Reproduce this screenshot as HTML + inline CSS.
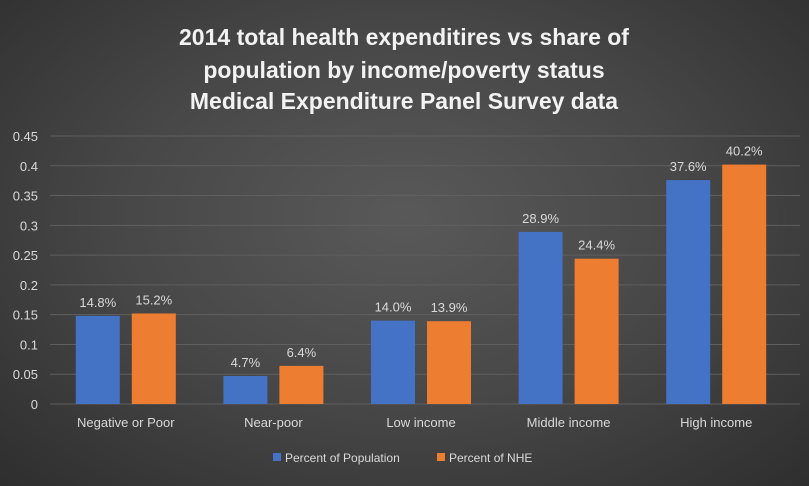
<!DOCTYPE html>
<html><head><meta charset="utf-8"><style>
html,body{margin:0;padding:0}
body{width:809px;height:486px;overflow:hidden;background:radial-gradient(ellipse at 50% 45%,#595959 0%,#474747 50%,#2e2e2e 100%);font-family:"Liberation Sans",sans-serif}
svg{display:block}
svg text{font-family:"Liberation Sans",sans-serif}
</style></head><body>
<svg id="chart" width="809" height="486">
<g fill="#f2f2f2" font-size="23" font-weight="bold" text-anchor="middle">
<text x="404" y="45">2014 total health expenditires vs share of</text>
<text x="404" y="78">population by income/poverty status</text>
<text x="404" y="109">Medical Expenditure Panel Survey data</text>
</g>
<g id="grid"></g><g id="bars"></g><g id="labels"></g>
<g font-size="12" fill="#d9d9d9">
<rect x="273" y="453" width="8" height="8" fill="#4472c4"/>
<text x="285" y="462">Percent of Population</text>
<rect x="437" y="453" width="8" height="8" fill="#ed7d31"/>
<text x="449" y="462">Percent of NHE</text>
</g>
</svg>
<script>
const categories=["Negative or Poor","Near-poor","Low income","Middle income","High income"];
const population=[0.148,0.047,0.140,0.289,0.376];
const nhe=[0.152,0.064,0.139,0.244,0.402];
const popLabels=["14.8%","4.7%","14.0%","28.9%","37.6%"];
const nheLabels=["15.2%","6.4%","13.9%","24.4%","40.2%"];
const ticks=[0,0.05,0.1,0.15,0.2,0.25,0.3,0.35,0.4,0.45];
const tickLabels=["0","0.05","0.1","0.15","0.2","0.25","0.3","0.35","0.4","0.45"];
const NS="http://www.w3.org/2000/svg";
const x0=52,x1=790,yBase=404,yTop=136,vmax=0.45;
const y=v=>yBase-(v/vmax)*(yBase-yTop);
const bw=(x1-x0)/categories.length;
const xc=i=>x0+bw*(i+0.5);
function mk(tag,attrs,parent,txt){const e=document.createElementNS(NS,tag);for(const k in attrs)e.setAttribute(k,attrs[k]);if(txt!==undefined)e.textContent=txt;document.getElementById(parent).appendChild(e);return e;}
ticks.forEach((t,i)=>{
 const l=mk('line',{x1:50,x2:800,y1:y(t),y2:y(t),stroke:'#5f5f5f','stroke-width':1},'grid');
 
 
 const tx=mk('text',{x:38,y:y(t)+5,'text-anchor':'end','font-size':13,fill:'#d9d9d9'},'grid',tickLabels[i]);
 
 
});
const W=44,G=12;
categories.forEach((c,i)=>{
 const bx=xc(i)-G/2-W, ox=xc(i)+G/2;
 const b=mk('rect',{x:bx,y:y(population[i]),width:W,height:yBase-y(population[i]),fill:'#4472c4'},'bars');
 
 
 const o=mk('rect',{x:ox,y:y(nhe[i]),width:W,height:yBase-y(nhe[i]),fill:'#ed7d31'},'bars');
 
 
 const l1=mk('text',{x:bx+W/2,y:y(population[i])-9,'text-anchor':'middle','font-size':13,fill:'#d9d9d9'},'labels',popLabels[i]);
 
 
 const l2=mk('text',{x:ox+W/2,y:y(nhe[i])-9,'text-anchor':'middle','font-size':13,fill:'#d9d9d9'},'labels',nheLabels[i]);
 
 
 const cl=mk('text',{x:xc(i),y:427,'text-anchor':'middle','font-size':13,fill:'#d9d9d9'},'labels',c);
 
 
});
</script>
</body></html>
